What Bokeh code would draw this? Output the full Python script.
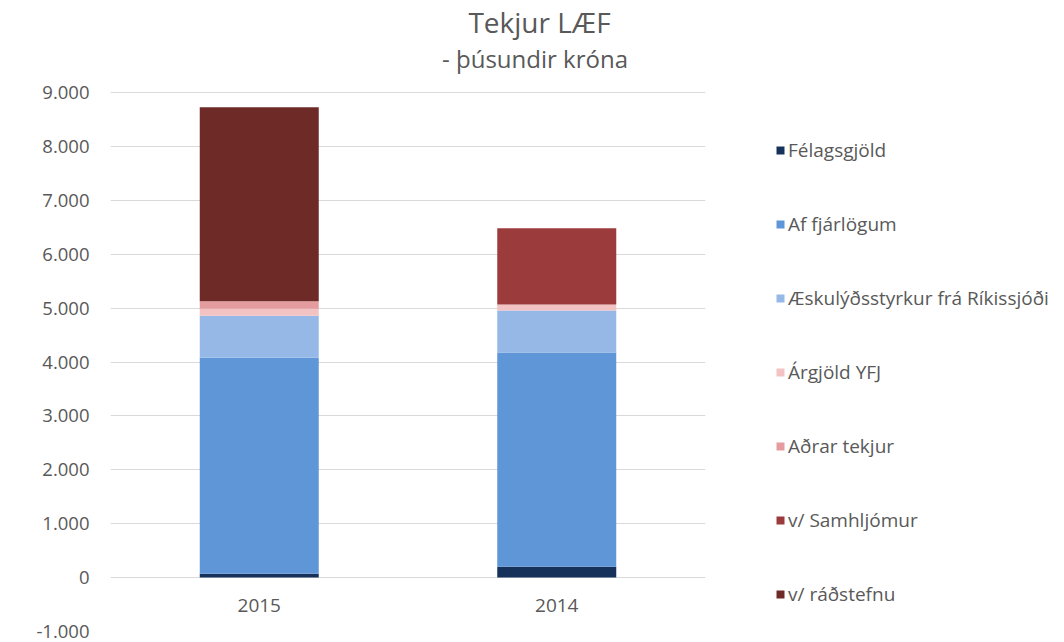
from bokeh.plotting import figure
from bokeh.models import FactorRange, Range1d, FixedTicker, Legend, LegendItem
from bokeh.core.properties import value
from bokeh.embed import file_html
from bokeh.resources import INLINE

years = ["2015", "2014"]
series = ["Félagsgjöld", "Af fjárlögum", "Æskulýðsstyrkur frá Ríkissjóði",
          "Árgjöld YFJ", "Aðrar tekjur", "v/ Samhljómur", "v/ ráðstefnu"]
felagsgjold = [70, 200]
af_fjarlogum = [4010, 3975]
aeskulydsstyrkur = [780, 780]
argjold_yfj = [130, 110]
adrar_tekjur = [135, 0]
samhljomur = [0, 1415]
radstefnu = [3600, 0]
colors = ["#17325a", "#5f96d8", "#95b8e6", "#f3c2c3", "#e49c9f", "#9b3b3b", "#6d2a27"]
tick_values = [-1000, 0, 1000, 2000, 3000, 4000, 5000, 6000, 7000, 8000, 9000]
tick_labels = ["-1.000", "0", "1.000", "2.000", "3.000", "4.000", "5.000",
               "6.000", "7.000", "8.000", "9.000"]
title = "Tekjur LÆF"
subtitle = "- þúsundir króna"

FONT = "Open Sans"
GREY = "#595959"

data = {"years": years}
keys = ["s0", "s1", "s2", "s3", "s4", "s5", "s6"]
for k, vals in zip(keys, [felagsgjold, af_fjarlogum, aeskulydsstyrkur, argjold_yfj,
                          adrar_tekjur, samhljomur, radstefnu]):
    data[k] = vals

# the frame reaches the top of the canvas; the axis only labels -1.000 .. 9.000
p = figure(x_range=FactorRange(*years), y_range=Range1d(-1000, 10707),
           frame_width=595, frame_height=631, output_backend="svg", toolbar_location=None,
           min_border_left=110, min_border_right=0, min_border_top=0, min_border_bottom=11)
p.title.visible = False

renderers = p.vbar_stack(keys, x="years", width=0.4, source=data, color=colors,
                         line_color=None)

# category labels below the zero line
p.text(x=years, y=[-515, -515], text=years, text_align="center", text_baseline="middle",
       text_font=value(FONT), text_font_size="19px", text_color=GREY)

# chart title and subtitle
p.text(x=[1.442], y=[10299], text=[title], text_align="center", text_baseline="middle",
       text_font=value(FONT), text_font_size="28px", text_color=GREY)
p.text(x=[1.427], y=[9631], text=[subtitle], text_align="center", text_baseline="middle",
       text_font=value(FONT), text_font_size="24px", text_color=GREY)

p.xaxis.visible = False
p.xgrid.grid_line_color = None
p.ygrid.grid_line_color = "#d9d9d9"
p.ygrid.grid_line_width = 1
p.yaxis.ticker = FixedTicker(ticks=tick_values)
p.yaxis.major_label_overrides = {t: l for t, l in zip(tick_values, tick_labels)}
p.yaxis.axis_line_color = None
p.yaxis.major_tick_line_color = None
p.yaxis.minor_tick_line_color = None
p.yaxis.major_label_text_font = FONT
p.yaxis.major_label_text_font_size = "18.5px"
p.yaxis.major_label_text_color = GREY
p.yaxis.major_label_standoff = 15
p.outline_line_color = None

legend = Legend(items=[LegendItem(label=s, renderers=[r]) for s, r in zip(series, renderers)],
                location=(70, 24), orientation="vertical")
legend.label_text_font = FONT
legend.label_text_font_size = "19px"
legend.label_text_color = GREY
legend.glyph_width = 10
legend.glyph_height = 10
legend.label_height = 20
legend.spacing = 48
legend.border_line_color = None
legend.background_fill_alpha = 0
legend.margin = 0
legend.padding = 0
legend.label_standoff = 3
p.add_layout(legend, "right")

open("out.html", "w").write(file_html(p, INLINE))
